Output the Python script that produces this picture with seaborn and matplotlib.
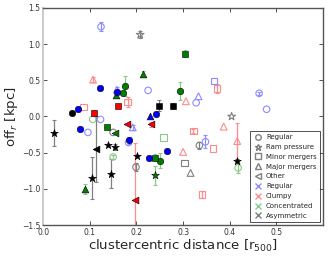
import numpy as np
import pandas as pd
import matplotlib
matplotlib.use('Agg')
import matplotlib.pyplot as plt
import seaborn as sns
from matplotlib.lines import Line2D

# offsets vs clustercentric distance
dist = [0.124, 0.208, 0.107, 0.121, 0.158, 0.158, 0.156, 0.175, 0.172, 0.215,
        0.225, 0.161, 0.181, 0.062, 0.075, 0.087, 0.110, 0.106, 0.123, 0.249,
        0.278, 0.229, 0.242, 0.024, 0.179, 0.231, 0.192, 0.305, 0.294, 0.306,
        0.328, 0.333, 0.366, 0.373, 0.463, 0.479, 0.404, 0.322, 0.387, 0.416,
        0.416, 0.418, 0.335, 0.348, 0.364, 0.300, 0.303, 0.316, 0.341, 0.080,
        0.096, 0.114, 0.105, 0.138, 0.154, 0.145, 0.150, 0.089, 0.136, 0.155,
        0.183, 0.197, 0.202, 0.199, 0.227, 0.240, 0.251, 0.240, 0.266, 0.258,
        0.183, 0.150]
off = [1.24, 1.13, 0.51, 0.40, 0.34, 0.37, 0.30, 0.42, 0.32, 0.59,
       0.36, 0.14, 0.20, 0.05, 0.11, 0.13, 0.05, -0.04, -0.04, 0.15,
       0.15, 0.00, 0.04, -0.23, -0.11, -0.11, -0.15, 0.87, 0.35, 0.21,
       0.19, 0.28, 0.49, 0.39, 0.32, 0.10, 0.00, -0.20, -0.14, -0.34,
       -0.61, -0.71, -0.40, -0.35, -0.44, -0.49, -0.64, -0.78, -1.08, -0.17,
       -0.22, -0.45, -0.85, -0.40, -0.42, -0.79, -0.56, -1.00, -0.14, -0.23,
       -0.33, -1.16, -0.55, -0.70, -0.58, -0.57, -0.61, -0.81, -0.48, -0.29,
       -0.36, -0.22]
err = [0.06, 0.05, 0.04, 0, 0, 0.04, 0, 0.14, 0, 0.04,
       0, 0, 0.07, 0, 0, 0, 0.04, 0, 0, 0.08,
       0.04, 0, 0, 0.18, 0, 0.03, 0.03, 0.05, 0.12, 0,
       0, 0, 0, 0.06, 0.02, 0, 0, 0.03, 0, 0.25,
       0.02, 0.07, 0.05, 0.09, 0, 0, 0, 0, 0.05, 0,
       0, 0.45, 0.29, 0, 0.04, 0.20, 0.03, 0.07, 0, 0,
       0.05, 0.80, 0, 0.06, 0, 0.05, 0.10, 0.13, 0, 0,
       0, 0]
phys = ['o', '*', '^', 'o', 'o', '^', '^', 'o', 'o', '^',
        'o', 's', 's', 'o', 'o', 's', 's', 'o', 'o', 's',
        's', '^', 'o', '*', '<', '<', '^', 's', 'o', '^',
        'o', '^', 's', 's', 'o', 'o', '*', 's', '^', '^',
        '*', 'o', 'o', 'o', 's', '^', 's', '^', 's', 'o',
        'o', '<', '*', '*', '*', '*', 'o', '^', 's', '<',
        'o', '<', '*', 'o', 'o', 's', 'o', '*', 'o', 's',
        'o', 'o']
morph = ['reg', 'asym', 'clumpy', 'reg', 'reg', 'reg', 'conc', 'conc', 'conc', 'conc',
         'reg', 'clumpy', 'clumpy', 'asym', 'reg', 'clumpy', 'clumpy', 'conc', 'reg', 'asym',
         'asym', 'reg', 'reg', 'asym', 'clumpy', 'clumpy', 'reg', 'conc', 'conc', 'clumpy',
         'reg', 'reg', 'reg', 'clumpy', 'reg', 'reg', 'asym', 'clumpy', 'clumpy', 'clumpy',
         'asym', 'conc', 'asym', 'reg', 'clumpy', 'clumpy', 'asym', 'asym', 'clumpy', 'reg',
         'reg', 'asym', 'asym', 'asym', 'asym', 'asym', 'conc', 'conc', 'conc', 'conc',
         'reg', 'clumpy', 'asym', 'asym', 'reg', 'conc', 'conc', 'conc', 'reg', 'conc',
         'reg', 'asym']
filled = [0, 0, 0, 1, 1, 0, 1, 1, 1, 1,
          0, 1, 0, 1, 1, 0, 1, 0, 0, 1,
          1, 1, 1, 1, 1, 1, 0, 1, 1, 0,
          0, 0, 0, 0, 0, 0, 0, 0, 0, 0,
          1, 0, 0, 0, 0, 0, 0, 0, 0, 1,
          0, 1, 1, 1, 1, 1, 0, 1, 1, 1,
          1, 1, 1, 0, 1, 1, 1, 1, 1, 0,
          0, 0]

df = pd.DataFrame({'dist': dist, 'off': off, 'err': err, 'phys': phys,
                   'morph': morph, 'filled': filled})

dark = {'reg': '#0000ff', 'clumpy': '#ff0000', 'conc': '#007f00', 'asym': '#000000'}
light = {'reg': '#8c8cff', 'clumpy': '#ff8c8c', 'conc': '#8cc88c', 'asym': '#808080'}
sizes = {'o': 22, 's': 22, '^': 24, '<': 24, '*': 34}

sns.set_style('ticks')
plt.rcParams['font.family'] = ['DejaVu Sans']
plt.rcParams['xtick.direction'] = 'in'
plt.rcParams['ytick.direction'] = 'in'

fig = plt.figure(figsize=(3.32, 2.56), dpi=100)
ax = fig.add_axes([0.13, 0.121, 0.843, 0.848])

# error bars first
eb = df[df['err'] > 0]
for _, r in eb.iterrows():
    ax.errorbar(r['dist'], r['off'], yerr=r['err'], fmt='none',
                ecolor=light[r['morph']], elinewidth=0.9, capsize=1.5,
                capthick=0.8, zorder=1)

# hollow points
for (m, p), g in df[df['filled'] == 0].groupby(['morph', 'phys']):
    sns.scatterplot(data=g, x='dist', y='off', marker=p, s=sizes[p],
                    facecolor='none', edgecolor=light[m], linewidth=0.8,
                    ax=ax, zorder=2, legend=False)

# filled points
for (m, p), g in df[df['filled'] == 1].groupby(['morph', 'phys']):
    sns.scatterplot(data=g, x='dist', y='off', marker=p, s=sizes[p],
                    color=dark[m], edgecolor='black', linewidth=0.4,
                    ax=ax, zorder=3, legend=False)

ax.set_xlim(0, 0.6)
ax.set_ylim(-1.5, 1.5)
ax.set_xticks([0.0, 0.1, 0.2, 0.3, 0.4, 0.5])
ax.set_yticks([-1.5, -1.0, -0.5, 0.0, 0.5, 1.0, 1.5])
ax.tick_params(labelsize=5.5, length=3, width=0.6, top=True, right=True,
               colors='#333333', pad=2)
for side in ['top', 'right', 'bottom']:
    ax.spines[side].set_color('#555555')
    ax.spines[side].set_linewidth(1.0)
ax.spines['left'].set_color('#cccccc')
ax.spines['left'].set_linewidth(1.5)

ax.set_xlabel('clustercentric distance [r$_{500}$]', fontsize=9.5, labelpad=1)
ax.set_ylabel('off$_r$ [kpc]', fontsize=9.5, labelpad=1)

handles = [
    Line2D([], [], ls='none', marker='o', mfc='none', mec='#808080', ms=4, label='Regular'),
    Line2D([], [], ls='none', marker='*', mfc='none', mec='#808080', ms=5, label='Ram pressure'),
    Line2D([], [], ls='none', marker='s', mfc='none', mec='#808080', ms=4, label='Minor mergers'),
    Line2D([], [], ls='none', marker='^', mfc='none', mec='#808080', ms=4, label='Major mergers'),
    Line2D([], [], ls='none', marker='<', mfc='none', mec='#808080', ms=4, label='Other'),
    Line2D([], [], ls='none', marker='x', color=light['reg'], ms=4, label='Regular'),
    Line2D([], [], ls='none', marker='x', color=light['clumpy'], ms=4, label='Clumpy'),
    Line2D([], [], ls='none', marker='x', color=light['conc'], ms=4, label='Concentrated'),
    Line2D([], [], ls='none', marker='x', color=light['asym'], ms=4, label='Asymmetric'),
]
leg = ax.legend(handles=handles, loc='lower right', fontsize=5, frameon=True,
                fancybox=False, borderpad=0.5, labelspacing=0.55,
                handletextpad=0.6, borderaxespad=0.4, handlelength=1.2)
leg.get_frame().set_edgecolor('black')
leg.get_frame().set_linewidth(0.6)

fig.savefig('out.png', dpi=100)
